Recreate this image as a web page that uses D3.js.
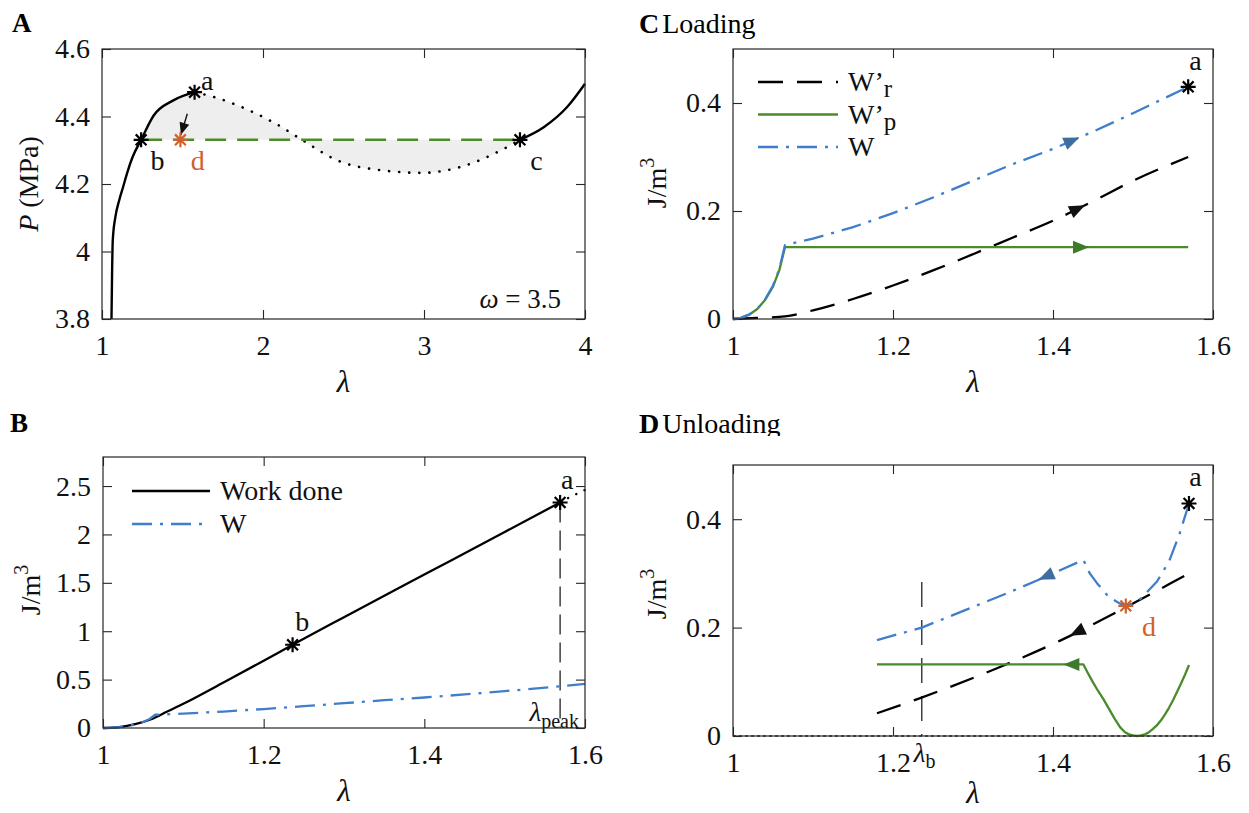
<!DOCTYPE html>
<html>
<head>
<meta charset="utf-8">
<script src="https://cdn.jsdelivr.net/npm/d3@7"></script>
<style>
body{margin:0;background:#fff;}
svg text{font-family:"Liberation Serif","DejaVu Serif",serif;}
</style>
</head>
<body>
<svg id="fig" width="1249" height="813"></svg>
<script>
(function(){

//---- data ----
// panel A: pressure vs stretch, omega = 3.5
var lamA1 = [1.059, 1.063, 1.067, 1.083, 1.107, 1.131, 1.155, 1.190, 1.243, 1.321, 1.440, 1.575];
var pA1   = [3.800, 3.950, 4.034, 4.102, 4.152, 4.191, 4.231, 4.280, 4.331, 4.403, 4.447, 4.472];
var lamA2 = [1.575, 1.701, 1.915, 2.082, 2.248, 2.462, 2.747, 2.985, 3.223, 3.437, 3.596]; // unstable (dotted)
var pA2   = [4.472, 4.457, 4.418, 4.378, 4.329, 4.270, 4.240, 4.233, 4.250, 4.290, 4.331];
var lamA3 = [3.596, 3.746, 3.889, 4.000];
var pA3   = [4.331, 4.369, 4.428, 4.497];
var pMaxwell = 4.331;
var lamMaxwell = [1.243, 3.596];
var ptsA = {a: [1.575, 4.472], b: [1.243, 4.331], c: [3.596, 4.331]};
var ptA_d = [1.487, 4.331];
var arrowA = [[1.530, 4.408], [1.490, 4.346]];

// panel B: work done and W
var lamWork = [1.00, 1.02, 1.04, 1.06, 1.08, 1.10, 1.15, 1.20, 1.236, 1.30, 1.40, 1.50, 1.569];
var work    = [0.00, 0.01, 0.04, 0.09, 0.17, 0.25, 0.47, 0.695, 0.86, 1.145, 1.585, 2.025, 2.33];
var lamWorkDot = [1.569, 1.580, 1.590, 1.600];
var workDot    = [2.33, 2.38, 2.42, 2.46];
var lamWB = [1.00, 1.01, 1.02, 1.03, 1.04, 1.05, 1.058, 1.065, 1.10, 1.15, 1.20, 1.25, 1.30, 1.35, 1.40, 1.45, 1.50, 1.569, 1.60];
var wB    = [0.00, 0.002, 0.008, 0.018, 0.036, 0.062, 0.093, 0.137, 0.149, 0.170, 0.196, 0.225, 0.256, 0.287, 0.315, 0.347, 0.381, 0.430, 0.455];
var ptsB = {a: [1.569, 2.33], b: [1.236, 0.86]};
var lamPeak = 1.569;

// panel C: loading
var lamW  = [1.00, 1.01, 1.02, 1.03, 1.04, 1.05, 1.058, 1.065, 1.10, 1.15, 1.20, 1.25, 1.30, 1.35, 1.40, 1.45, 1.50, 1.569];
var wLoad = [0.00, 0.002, 0.008, 0.018, 0.036, 0.062, 0.093, 0.137, 0.149, 0.170, 0.196, 0.225, 0.256, 0.287, 0.315, 0.347, 0.381, 0.430];
var lamWp  = [1.00, 1.01, 1.02, 1.03, 1.04, 1.05, 1.058, 1.065, 1.569];
var wpLoad = [0.00, 0.002, 0.008, 0.018, 0.035, 0.060, 0.091, 0.133, 0.133];
var lamWr  = [1.00, 1.03, 1.065, 1.10, 1.15, 1.20, 1.25, 1.30, 1.35, 1.40, 1.45, 1.50, 1.569];
var wrLoad = [0.000, 0.002, 0.005, 0.016, 0.037, 0.062, 0.090, 0.120, 0.151, 0.182, 0.218, 0.256, 0.300];
var arrowC = {wr: 1.440, wp: 1.445, w: 1.433};

// panel D: unloading (lambda ascending, drawn from a back to lambda_b)
var lamWU   = [1.180, 1.236, 1.305, 1.342, 1.380, 1.438, 1.446, 1.455, 1.470, 1.483, 1.490, 1.500, 1.510, 1.530, 1.545, 1.558, 1.570];
var wUnload = [0.177, 0.200, 0.241, 0.263, 0.287, 0.325, 0.300, 0.282, 0.256, 0.245, 0.241, 0.244, 0.254, 0.285, 0.322, 0.372, 0.429];
var lamWpU   = [1.180, 1.438, 1.444, 1.450, 1.456, 1.463, 1.470, 1.477, 1.484, 1.490, 1.495, 1.500, 1.505, 1.510, 1.515, 1.520, 1.525, 1.530, 1.535, 1.540, 1.545, 1.550, 1.555, 1.560, 1.565, 1.570];
var wpUnload = [0.132, 0.132, 0.115, 0.099, 0.084, 0.068, 0.050, 0.032, 0.016, 0.007, 0.003, 0.001, 0.000, 0.001, 0.003, 0.007, 0.013, 0.020, 0.029, 0.040, 0.052, 0.066, 0.081, 0.097, 0.113, 0.131];
var lamWrU   = [1.180, 1.234, 1.330, 1.409, 1.475, 1.550, 1.570];
var wrUnload = [0.042, 0.070, 0.125, 0.176, 0.225, 0.284, 0.300];
var lamZero = [1.0, 1.6];
var wZero = [0, 0];
var ptsD = {a: [1.570, 0.429], d: [1.491, 0.240]};
var lamB = 1.236;
var arrowD = {wr: 1.421, wp: 1.413, w: 1.382};

//---- style ----
var FONT = '"Liberation Serif", "DejaVu Serif", serif';
var INK = "#262626";
var GREEN = "#4b8b2b", BLUE = "#3f7ecb", ORANGE = "#d2602a";
var BLUE_HEAD = "#3d6e9f", GREEN_HEAD = "#3d7a2a";

var svg = d3.select("#fig").attr("font-family", FONT);

function fmt(d){ return String(+d.toFixed(1)); }

function panel(left, right, top, bottom, xd, yd, xt, yt){
    var x = d3.scaleLinear().domain(xd).range([left, right]);
    var y = d3.scaleLinear().domain(yd).range([bottom, top]);
    var g = svg.append("g");
    var clean = function(s){
        s.attr("font-family", FONT).attr("font-size", 28).attr("color", INK);
        s.select(".domain").remove();
        s.selectAll(".tick line").attr("stroke-width", 1.1);
        s.selectAll(".tick text").attr("fill", "#111");
    };
    g.append("g").attr("transform", "translate(0," + bottom + ")")
        .call(d3.axisBottom(x).tickValues(xt).tickSize(-9).tickPadding(16).tickFormat(fmt)).call(clean);
    g.append("g").attr("transform", "translate(0," + top + ")")
        .call(d3.axisTop(x).tickValues(xt).tickSize(-9).tickFormat("")).call(clean);
    g.append("g").attr("transform", "translate(" + left + ",0)")
        .call(d3.axisLeft(y).tickValues(yt).tickSize(-9).tickPadding(12).tickFormat(fmt)).call(clean);
    g.append("g").attr("transform", "translate(" + right + ",0)")
        .call(d3.axisRight(y).tickValues(yt).tickSize(-9).tickFormat("")).call(clean);
    var marks = svg.append("g");
    return {x: x, y: y, g: marks, left: left, right: right, top: top, bottom: bottom};
}

function frame(p){
    svg.append("rect").attr("x", p.left).attr("y", p.top)
        .attr("width", p.right - p.left).attr("height", p.bottom - p.top)
        .attr("fill", "none").attr("stroke", INK).attr("stroke-width", 1.2);
}

function curve(p, xs, ys, opts, crv){
    var line = d3.line().x(function(d){ return p.x(d[0]); }).y(function(d){ return p.y(d[1]); })
        .curve(crv || d3.curveLinear);
    var path = p.g.append("path").datum(d3.zip(xs, ys)).attr("d", line)
        .attr("fill", "none").attr("stroke", opts.color).attr("stroke-width", opts.width || 2.2)
        .attr("stroke-linejoin", "round");
    if (opts.dash) path.attr("stroke-dasharray", opts.dash);
    if (opts.cap) path.attr("stroke-linecap", opts.cap);
    return path;
}

function interp(xs, ys, t){
    var i = d3.bisectRight(xs, t);
    i = Math.max(1, Math.min(xs.length - 1, i));
    var f = (t - xs[i-1]) / (xs[i] - xs[i-1]);
    return ys[i-1] + f * (ys[i] - ys[i-1]);
}

function head(p, tip, back, color, L, W){
    L = L || 16; W = W || 6.5;
    var a = Math.atan2(tip[1] - back[1], tip[0] - back[0]);
    var ux = Math.cos(a), uy = Math.sin(a);
    var bx = tip[0] - L * ux, by = tip[1] - L * uy;
    p.g.append("path")
        .attr("d", "M" + tip[0] + "," + tip[1] + "L" + (bx - W * uy) + "," + (by + W * ux) +
            "L" + (bx + W * uy) + "," + (by - W * ux) + "Z")
        .attr("fill", color);
}

function curveHead(p, xs, ys, at, dir, color){
    var tip = [p.x(at), p.y(interp(xs, ys, at))];
    var b = at - dir * 0.008;
    var back = [p.x(b), p.y(interp(xs, ys, b))];
    head(p, tip, back, color);
}

function star(p, pt, color){
    var cx = p.x(pt[0]), cy = p.y(pt[1]), r = 7.5, q = r * 0.72;
    p.g.append("path")
        .attr("d", "M" + (cx - r) + "," + cy + "H" + (cx + r) + "M" + cx + "," + (cy - r) + "V" + (cy + r) +
            "M" + (cx - q) + "," + (cy - q) + "L" + (cx + q) + "," + (cy + q) +
            "M" + (cx - q) + "," + (cy + q) + "L" + (cx + q) + "," + (cy - q))
        .attr("stroke", color).attr("stroke-width", 2.2).attr("fill", "none");
}

function label(p, pt, txt, color, size){
    return p.g.append("text").attr("x", p.x(pt[0])).attr("y", p.y(pt[1]))
        .attr("text-anchor", "middle").attr("dy", "0.33em")
        .attr("font-size", size || 28).attr("fill", color || "#111").text(txt);
}

function xLabel(p, off){
    svg.append("text").attr("x", (p.left + p.right) / 2).attr("y", p.bottom + (off || 73))
        .attr("text-anchor", "middle").attr("font-size", 31).attr("font-style", "italic")
        .attr("fill", "#111").text("λ");
}

function jLabel(cx, cy){
    var t = svg.append("text").attr("transform", "translate(" + cx + "," + cy + ") rotate(-90)")
        .attr("text-anchor", "middle").attr("dy", "0.35em").attr("font-size", 28).attr("fill", "#111");
    t.append("tspan").text("J/m");
    t.append("tspan").attr("dy", -12).attr("font-size", 20).text("3");
}

var dashR = "25,14", dashW = "20,8,3,8";

//---- panel A ----
var A = panel(102, 585, 49, 319, [1, 4], [3.8, 4.6], [1, 2, 3, 4], [3.8, 4, 4.2, 4.4, 4.6]);
var shadeLam = [], shadeP = [];
lamA1.forEach(function(l, i){ if (l >= lamMaxwell[0]) { shadeLam.push(l); shadeP.push(pA1[i]); } });
lamA2.slice(1).forEach(function(l, i){ shadeLam.push(l); shadeP.push(pA2[i + 1]); });
var area = d3.area().x(function(d){ return A.x(d[0]); })
    .y0(A.y(pMaxwell)).y1(function(d){ return A.y(d[1]); }).curve(d3.curveMonotoneX);
A.g.append("path").datum(d3.zip(shadeLam, shadeP)).attr("d", area).attr("fill", "#eeeeee");
curve(A, lamA1, pA1, {color: "#000", width: 2.4}, d3.curveMonotoneX);
curve(A, lamA2, pA2, {color: "#000", width: 2.6, dash: "0.1,10", cap: "round"}, d3.curveMonotoneX);
curve(A, lamA3, pA3, {color: "#000", width: 2.4}, d3.curveMonotoneX);
curve(A, lamMaxwell, [pMaxwell, pMaxwell], {color: GREEN, width: 2.6, dash: "21,11"});
A.g.append("line").attr("x1", A.x(arrowA[0][0])).attr("y1", A.y(arrowA[0][1]))
    .attr("x2", A.x(arrowA[1][0])).attr("y2", A.y(arrowA[1][1]))
    .attr("stroke", "#111").attr("stroke-width", 1.4);
head(A, [A.x(arrowA[1][0]), A.y(arrowA[1][1])], [A.x(arrowA[0][0]), A.y(arrowA[0][1])], "#111", 12, 5);
star(A, ptsA.a, "#000"); star(A, ptsA.b, "#000"); star(A, ptsA.c, "#000");
star(A, ptA_d, ORANGE);
label(A, [1.654, 4.506], "a");
label(A, [1.345, 4.270], "b");
label(A, [3.698, 4.270], "c");
label(A, [1.594, 4.270], "d", ORANGE);
var om = A.g.append("text").attr("x", 561).attr("y", 308).attr("text-anchor", "end")
    .attr("font-size", 27).attr("fill", "#111");
om.append("tspan").attr("font-style", "italic").text("ω");
om.append("tspan").text(" = 3.5");
frame(A);
xLabel(A);
var pl = svg.append("text").attr("transform", "translate(28,184) rotate(-90)")
    .attr("text-anchor", "middle").attr("dy", "0.35em").attr("font-size", 28).attr("fill", "#111");
pl.append("tspan").attr("font-style", "italic").text("P");
pl.append("tspan").text(" (MPa)");

//---- panel B ----
var B = panel(103, 585, 457, 728, [1, 1.6], [0, 2.8], [1, 1.2, 1.4, 1.6], [0, 0.5, 1, 1.5, 2, 2.5]);
B.g.append("line").attr("x1", B.x(lamPeak)).attr("x2", B.x(lamPeak))
    .attr("y1", B.y(ptsB.a[1])).attr("y2", B.y(0))
    .attr("stroke", "#111").attr("stroke-width", 1.2).attr("stroke-dasharray", "20,8");
curve(B, lamWork, work, {color: "#000", width: 2.3}, d3.curveMonotoneX);
curve(B, lamWorkDot, workDot, {color: "#000", width: 2.4, dash: "0.1,9", cap: "round"});
curve(B, lamWB, wB, {color: BLUE, width: 2.3, dash: dashW});
star(B, ptsB.a, "#000"); star(B, ptsB.b, "#000");
label(B, [1.578, 2.562], "a");
label(B, [1.248, 1.10], "b");
var lp = B.g.append("text").attr("x", B.x(1.5925)).attr("y", B.y(0.155)).attr("dy", "0.3em")
    .attr("text-anchor", "end").attr("font-size", 27).attr("fill", "#111");
lp.append("tspan").attr("font-style", "italic").text("λ");
lp.append("tspan").attr("dy", 7).attr("font-size", 20).text("peak");
// legend B
[["Work done", {color: "#000"}], ["W", {color: BLUE, dash: dashW}]].forEach(function(e, i){
    var yy = B.top + 34 + i * 33;
    var ln = svg.append("line").attr("x1", 132).attr("x2", 210).attr("y1", yy).attr("y2", yy)
        .attr("stroke", e[1].color).attr("stroke-width", 2.3);
    if (e[1].dash) ln.attr("stroke-dasharray", e[1].dash);
    svg.append("text").attr("x", 220).attr("y", yy).attr("dy", "0.33em")
        .attr("font-size", 28).attr("fill", "#111").text(e[0]);
});
frame(B);
xLabel(B);
jLabel(30, 590);

//---- panel C ----
var C = panel(733, 1213, 49, 319, [1, 1.6], [0, 0.5], [1, 1.2, 1.4, 1.6], [0, 0.2, 0.4]);
curve(C, lamWr, wrLoad, {color: "#000", width: 2.3, dash: dashR}, d3.curveMonotoneX);
curve(C, lamWp, wpLoad, {color: GREEN, width: 2.3});
curve(C, lamW, wLoad, {color: BLUE, width: 2.3, dash: dashW});
curveHead(C, lamWr, wrLoad, arrowC.wr, 1, "#111");
curveHead(C, lamWp, wpLoad, arrowC.wp, 1, GREEN_HEAD);
curveHead(C, lamW, wLoad, arrowC.w, 1, BLUE_HEAD);
star(C, [lamW[lamW.length - 1], wLoad[wLoad.length - 1]], "#000");
label(C, [1.578, 0.478], "a");
// legend C
[["r", {color: "#000", dash: dashR}], ["p", {color: GREEN}], ["", {color: BLUE, dash: dashW}]].forEach(function(e, i){
    var yy = C.top + 33 + i * 32.5;
    var ln = svg.append("line").attr("x1", 758).attr("x2", 838).attr("y1", yy).attr("y2", yy)
        .attr("stroke", e[1].color).attr("stroke-width", 2.3);
    if (e[1].dash) ln.attr("stroke-dasharray", e[1].dash);
    var t = svg.append("text").attr("x", 848).attr("y", yy).attr("dy", "0.33em")
        .attr("font-size", 28).attr("fill", "#111");
    if (e[0]) {
        t.append("tspan").text("W’");
        t.append("tspan").attr("dy", 6).attr("font-size", 25).text(e[0]);
    } else {
        t.text("W");
    }
});
frame(C);
xLabel(C);
jLabel(656, 183);

//---- panel D ----
var D = panel(733, 1213, 465, 736, [1, 1.6], [0, 0.5], [1, 1.2, 1.4, 1.6], [0, 0.2, 0.4]);
curve(D, lamZero, wZero, {color: "#333", width: 1.6, dash: "3,3"});
D.g.append("line").attr("x1", D.x(lamB)).attr("x2", D.x(lamB))
    .attr("y1", D.y(0.284)).attr("y2", D.y(0))
    .attr("stroke", "#111").attr("stroke-width", 1.2).attr("stroke-dasharray", "25,13");
curve(D, lamWrU, wrUnload, {color: "#000", width: 2.3, dash: dashR}, d3.curveMonotoneX);
curve(D, lamWpU, wpUnload, {color: GREEN, width: 2.3});
curve(D, lamWU, wUnload, {color: BLUE, width: 2.3, dash: dashW});
curveHead(D, lamWrU, wrUnload, arrowD.wr, -1, "#111");
curveHead(D, lamWpU, wpUnload, arrowD.wp, -1, GREEN_HEAD);
curveHead(D, lamWU, wUnload, arrowD.w, -1, BLUE_HEAD);
star(D, ptsD.a, "#000");
star(D, ptsD.d, ORANGE);
label(D, [1.578, 0.478], "a");
label(D, [1.520, 0.2015], "d", ORANGE);
var lb = D.g.append("text").attr("x", D.x(lamB) - 8).attr("y", D.bottom + 26)
    .attr("font-size", 27).attr("fill", "#111");
lb.append("tspan").attr("font-style", "italic").text("λ");
lb.append("tspan").attr("dy", 6).attr("font-size", 20).text("b");
frame(D);
xLabel(D, 67);
jLabel(656, 594);

//---- panel titles ----
svg.append("text").attr("x", 12).attr("y", 32).attr("font-size", 27).attr("font-weight", "bold").text("A");
svg.append("text").attr("x", 10).attr("y", 432).attr("font-size", 27).attr("font-weight", "bold").text("B");
var tc = svg.append("text").attr("x", 639).attr("y", 33).attr("font-size", 28);
tc.append("tspan").attr("font-weight", "bold").text("C");
tc.append("tspan").attr("dx", 3).text("Loading");
svg.append("clipPath").attr("id", "dclip").append("rect")
    .attr("x", 600).attr("y", 400).attr("width", 400).attr("height", 36);
var td = svg.append("text").attr("x", 639).attr("y", 433).attr("font-size", 28)
    .attr("clip-path", "url(#dclip)");
td.append("tspan").attr("font-weight", "bold").text("D");
td.append("tspan").attr("dx", 3).text("Unloading");

})();
</script>
</body>
</html>
